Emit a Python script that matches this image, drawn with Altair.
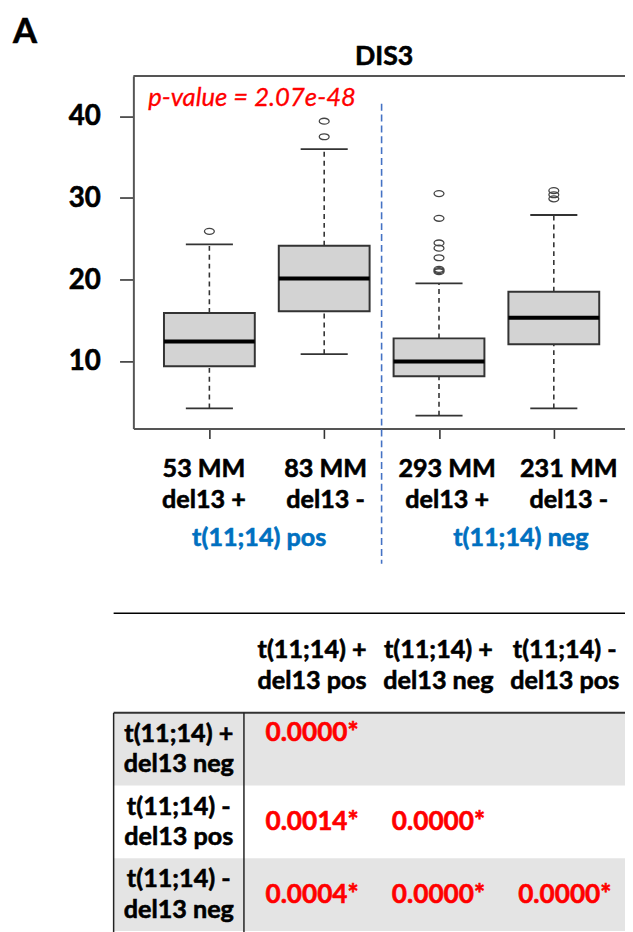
import altair as alt
import pandas as pd

# ---------------- data ----------------
panel_letter = "A"
gene_title = "DIS3"
pvalue_text = "p-value = 2.07e-48"
y_ticks = [10, 20, 30, 40]

groups = [1, 2, 3, 4]
counts = ["53 MM", "83 MM", "293 MM", "231 MM"]
del13 = ["del13 +", "del13 -", "del13 +", "del13 -"]
trans_labels = ["t(11;14) pos", "t(11;14) neg"]
separator_at = [2.5]

whisker_lo = [4.25, 10.9, 3.36, 4.25]
q1 = [9.4, 16.15, 8.19, 12.1]
median = [12.43, 20.15, 10.0, 15.35]
q3 = [15.92, 24.17, 12.82, 18.54]
whisker_hi = [24.32, 35.98, 19.55, 27.92]

outlier_group = [1, 2, 2, 3, 3, 3, 3, 3, 3, 3, 3, 4, 4, 4]
outlier_value = [25.92, 39.4, 37.5, 30.54, 27.52, 24.5, 23.86, 22.69,
                 21.27, 21.12, 20.98, 30.9, 30.4, 29.9]

col_label_1 = ["t(11;14) +", "t(11;14) +", "t(11;14) -"]
col_label_2 = ["del13 pos", "del13 neg", "del13 pos"]
row_label_1 = ["t(11;14) +", "t(11;14) -", "t(11;14) -"]
row_label_2 = ["del13 neg", "del13 pos", "del13 neg"]
pv_row = [1, 2, 2, 3, 3, 3]
pv_col = [1, 1, 2, 1, 2, 3]
pv_text = ["0.0000*", "0.0014*", "0.0000*", "0.0004*", "0.0000*", "0.0000*"]

# ---------------- layout ----------------
W, H = 498, 357
PAD = {"left": 127, "top": 63, "right": 0, "bottom": 504}
X_DOM = [0.338, 4.62]
Y_DOM = [1.785, 44.92]
BOX_HALF = 0.3955
CAP_HALF = 0.205
FONT = "Lato"
FRAME = "#555555"
DARK = "#333333"
BOLD = dict(font=FONT, fontWeight="bold", strokeWidth=0.6)

box_df = pd.DataFrame({"g": groups, "lo": whisker_lo, "q1": q1, "med": median,
                       "q3": q3, "hi": whisker_hi})
out_df = pd.DataFrame({"g": outlier_group, "v": outlier_value})
sep_df = pd.DataFrame({"s": separator_at})
tick_df = pd.DataFrame({"v": y_ticks})
lab_df = pd.DataFrame({
    "g": groups * 2,
    "line": [0] * 4 + [1] * 4,
    "txt": counts + del13,
})
trans_df = pd.DataFrame({"k": [0, 1], "txt": trans_labels})
colh_df = pd.DataFrame({
    "c": [1, 2, 3] * 2,
    "line": [0] * 3 + [1] * 3,
    "txt": col_label_1 + col_label_2,
})
rowh_df = pd.DataFrame({"r": [1, 2, 3], "l1": row_label_1, "l2": row_label_2})
pv_df = pd.DataFrame({"r": pv_row, "c": pv_col, "txt": pv_text})
one = pd.DataFrame({"k": [0]})


def xs():
    return alt.Scale(domain=X_DOM, nice=False, zero=False)


def ys():
    return alt.Scale(domain=Y_DOM, nice=False, zero=False)


def X(f, axis=None):
    return alt.X(f, type="quantitative", scale=xs(), axis=axis, title=None)


def Y(f, axis=None):
    return alt.Y(f, type="quantitative", scale=ys(), axis=axis, title=None)


base_box = alt.Chart(box_df).transform_calculate(
    bl=f"datum.g - {BOX_HALF}", br=f"datum.g + {BOX_HALF}",
    cl=f"datum.g - {CAP_HALF}", cr=f"datum.g + {CAP_HALF}",
)

whisk_up = base_box.mark_rule(color=DARK, strokeWidth=1.6, strokeDash=[5, 4]).encode(
    x=X("g"), y=Y("q3"), y2="hi")
whisk_dn = base_box.mark_rule(color=DARK, strokeWidth=1.6, strokeDash=[5, 4]).encode(
    x=X("g"), y=Y("lo"), y2="q1")
cap_up = base_box.mark_rule(color=DARK, strokeWidth=1.8).encode(
    x=X("cl"), x2="cr", y=Y("hi"))
cap_dn = base_box.mark_rule(color=DARK, strokeWidth=1.8).encode(
    x=X("cl"), x2="cr", y=Y("lo"))

x_axis = alt.Axis(values=groups, labels=False, ticks=True, tickSize=10,
                  tickColor=DARK, tickWidth=1.6, domainColor=FRAME,
                  domainWidth=2, grid=False, title=None)
y_axis = alt.Axis(values=y_ticks, labels=False, tickSize=14, tickColor=DARK,
                  tickWidth=1.6, domainColor=FRAME, domainWidth=2, grid=False,
                  title=None)

boxes = base_box.mark_rect(fill="#d3d3d3", stroke=DARK, strokeWidth=2).encode(
    x=X("bl", axis=x_axis), x2="br", y=Y("q1", axis=y_axis), y2="q3")
medians = base_box.mark_rule(color="black", strokeWidth=4).encode(
    x=X("bl"), x2="br", y=Y("med"))

ellipse = "M-1,0A1,0.6,0,1,0,1,0A1,0.6,0,1,0,-1,0Z"
outliers = alt.Chart(out_df).mark_point(
    shape=ellipse, size=100, filled=False, stroke="#444444", strokeWidth=1.3,
    opacity=1).encode(x=X("g"), y=Y("v"))

y_labels = alt.Chart(tick_df).mark_text(
    fontSize=28, align="right", baseline="middle", color="black",
    stroke="black", dy=1, **BOLD).encode(
    x=alt.value(-33), y=Y("v"), text=alt.Text("v:Q", format="d"))

separator = alt.Chart(sep_df).mark_rule(
    color="#4472C4", strokeWidth=1.6, strokeDash=[7, 4]).encode(
    x=X("s"), y=alt.value(28), y2=alt.value(494))

top_frame = alt.Chart(one).mark_rule(color=FRAME, strokeWidth=2).encode(
    x=alt.value(0), x2=alt.value(W), y=alt.value(0))

letter = alt.Chart(pd.DataFrame({"t": [panel_letter]})).mark_text(
    fontSize=35, align="left", baseline="alphabetic", color="black",
    stroke="black", **BOLD).encode(
    x=alt.value(-122), y=alt.value(-34), text="t:N")

title = alt.Chart(pd.DataFrame({"t": [gene_title]})).mark_text(
    fontSize=27, align="center", baseline="alphabetic", color="black",
    stroke="black", **BOLD).encode(
    x=alt.value(254), y=alt.value(-11), text="t:N")

pval = alt.Chart(pd.DataFrame({"t": [pvalue_text]})).mark_text(
    font=FONT, fontStyle="italic", fontSize=26, align="left",
    baseline="alphabetic", color="#ff0000", stroke="#ff0000",
    strokeWidth=0.3).encode(
    x=alt.value(15), y=alt.value(30), text="t:N")

group_labels = alt.Chart(lab_df).mark_text(
    fontSize=25.5, color="black", stroke="black", baseline="middle", **BOLD).encode(
    x=alt.X("g:O", scale=alt.Scale(type="point", domain=groups,
                                   range=[71.5, 441], padding=0), axis=None),
    y=alt.Y("line:O", scale=alt.Scale(type="point", domain=[0, 1],
                                      range=[398, 429], padding=0), axis=None),
    text="txt:N")

trans_text = alt.Chart(trans_df).mark_text(
    fontSize=25.5, color="#0070C0", stroke="#0070C0", baseline="middle",
    **BOLD).encode(
    x=alt.X("k:O", scale=alt.Scale(type="point", domain=[0, 1],
                                   range=[127.5, 392.5], padding=0), axis=None),
    y=alt.value(468), text="txt:N")

# ---------------- table ----------------
TY = [645, 866]
col_x = alt.Scale(domain=[1, 3], range=[181, 437], nice=False, zero=False)
row_pt = alt.Scale(type="point", domain=[1, 2, 3], range=TY, padding=0.5)
row_band = alt.Scale(type="band", domain=[1, 2, 3], range=TY,
                     paddingInner=0, paddingOuter=0)

shade = alt.Chart(rowh_df).transform_filter("datum.r % 2 == 1").mark_rect(
    color="#e4e4e4").encode(
    y=alt.Y("r:O", scale=row_band, axis=None),
    x=alt.value(-20), x2=alt.value(W))

sep_line = alt.Chart(one).mark_rule(color="black", strokeWidth=1.5).encode(
    x=alt.value(-20), x2=alt.value(W), y=alt.value(544))
table_top = alt.Chart(one).mark_rule(color=DARK, strokeWidth=2).encode(
    x=alt.value(-20), x2=alt.value(W), y=alt.value(645))
table_left = alt.Chart(one).mark_rule(color="#222222", strokeWidth=1.5).encode(
    x=alt.value(-20), y=alt.value(645), y2=alt.value(870))
table_div = alt.Chart(one).mark_rule(color="#222222", strokeWidth=1.5).encode(
    x=alt.value(112), y=alt.value(645), y2=alt.value(870))

col_head = alt.Chart(colh_df).mark_text(
    fontSize=25.5, color="black", stroke="black", baseline="middle", **BOLD).encode(
    x=alt.X("c:Q", scale=col_x, axis=None),
    y=alt.Y("line:O", scale=alt.Scale(type="point", domain=[0, 1],
                                      range=[581, 613], padding=0), axis=None),
    text="txt:N")

row_head_1 = alt.Chart(rowh_df).mark_text(
    fontSize=25.5, color="black", stroke="black", baseline="middle", dy=-15.5,
    **BOLD).encode(
    x=alt.value(46), y=alt.Y("r:O", scale=row_pt, axis=None), text="l1:N")
row_head_2 = alt.Chart(rowh_df).mark_text(
    fontSize=25.5, color="black", stroke="black", baseline="middle", dy=15.5,
    **BOLD).encode(
    x=alt.value(46), y=alt.Y("r:O", scale=row_pt, axis=None), text="l2:N")

pv_first = alt.Chart(pv_df).transform_filter("datum.r == 1").mark_text(
    fontSize=26.5, color="#ff0000", stroke="#ff0000", baseline="middle",
    dy=-16, **BOLD).encode(
    x=alt.X("c:Q", scale=col_x, axis=None),
    y=alt.Y("r:O", scale=row_pt, axis=None), text="txt:N")
pv_rest = alt.Chart(pv_df).transform_filter("datum.r > 1").mark_text(
    fontSize=26.5, color="#ff0000", stroke="#ff0000", baseline="middle",
    **BOLD).encode(
    x=alt.X("c:Q", scale=col_x, axis=None),
    y=alt.Y("r:O", scale=row_pt, axis=None), text="txt:N")

chart = alt.layer(
    shade, sep_line, table_top, table_left, table_div,
    separator, whisk_up, whisk_dn, cap_up, cap_dn, boxes, medians, outliers,
    y_labels, top_frame, letter, title, pval, group_labels, trans_text,
    col_head, row_head_1, row_head_2, pv_first, pv_rest,
).resolve_scale(x="independent", y="independent").properties(
    width=W, height=H,
    autosize=alt.AutoSizeParams(type="none"),
    padding=PAD,
).configure_view(strokeWidth=0).configure_axis(grid=False)

chart.save("out.html", embed_options={"renderer": "svg", "actions": False})
